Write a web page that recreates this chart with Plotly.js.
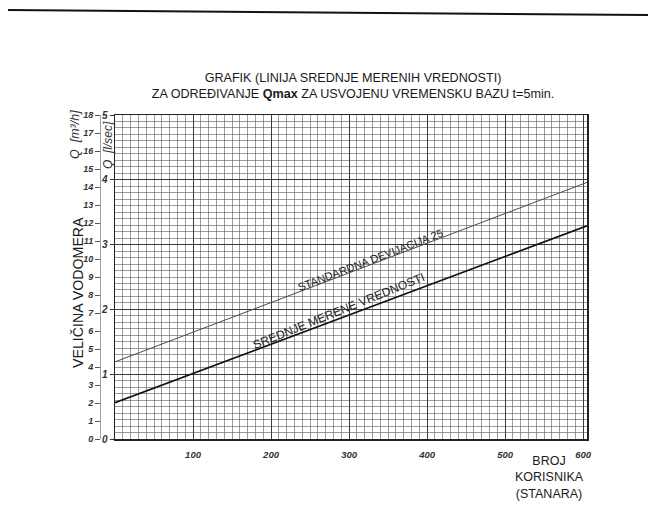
<!DOCTYPE html>
<html><head><meta charset="utf-8">
<script src="https://cdn.plot.ly/plotly-3.0.1.min.js"></script>
<style>html,body{margin:0;padding:0;background:#fff}#chart{width:648px;height:513px}</style>
</head><body><div id="chart"></div>
<script>
// Data
const users = [0, 605];                 // BROJ KORISNIKA (STANARA)
const meanQ = [0.56, 3.29];             // SREDNJE MERENE VREDNOSTI, Q [l/sec]
const sdQ = [1.19, 3.96];               // STANDARDNA DEVIJACIJA 25, Q [l/sec]
const xTicks = [100, 200, 300, 400, 500, 600];
const lsTicks = [0, 1, 2, 3, 4, 5];
const m3hTicks = [0,1,2,3,4,5,6,7,8,9,10,11,12,13,14,15,16,17,18];

const W = 648, H = 513, L = 60, R = 61, T = 115, B = 74;
const pw = W - L - R, ph = H - T - B;
const px = x => (x - L) / pw;
const py = y => (H - B - y) / ph;

const FONT = 'Liberation Sans, Arial, sans-serif';
const INK = '#1a1a1a';

const traces = [
  {x: users, y: sdQ, type: 'scatter', mode: 'lines', line: {color: '#4a4a4a', width: 1}, hoverinfo: 'skip', showlegend: false},
  {x: users, y: meanQ, type: 'scatter', mode: 'lines', line: {color: '#111', width: 1.7}, hoverinfo: 'skip', showlegend: false},
  {x: users, y: meanQ.map(v => v * 3.6), yaxis: 'y2', type: 'scatter', mode: 'lines', line: {width: 0}, opacity: 0, hoverinfo: 'skip', showlegend: false}
];

const layout = {
  width: W, height: H,
  margin: {l: L, r: R, t: T, b: B},
  paper_bgcolor: '#fff', plot_bgcolor: '#fff',
  font: {family: FONT, color: INK},
  showlegend: false,
  title: {
    text: 'GRAFIK (LINIJA SREDNJE MERENIH VREDNOSTI)<br>ZA ODREĐIVANJE <b>Qmax</b> ZA USVOJENU VREMENSKU BAZU t=5min.',
    x: 353 / W, xref: 'container', xanchor: 'center',
    y: 1 - 82 / H, yref: 'container', yanchor: 'middle',
    font: {size: 12.6, color: INK, family: FONT}
  },
  xaxis: {
    domain: [px(115), 1],
    range: [0, 605],
    tickvals: xTicks, ticktext: xTicks.map(String),
    tickfont: {size: 9.5, style: 'italic', weight: 'bold', color: '#333'},
    ticks: '', ticklabelstandoff: 6,
    showline: true, linecolor: '#222', linewidth: 1.5, mirror: true,
    showgrid: true, gridcolor: '#333', gridwidth: 0.9,
    minor: {dtick: 10, showgrid: true, gridcolor: '#5a5a5a', gridwidth: 0.6},
    zeroline: false, fixedrange: true
  },
  yaxis: {
    range: [0, 5],
    tickvals: lsTicks, ticktext: lsTicks.map(String),
    tickfont: {size: 10, style: 'italic', weight: 'bold', color: '#333'},
    ticks: 'outside', ticklen: 4, tickcolor: '#333',
    showline: true, linecolor: '#222', linewidth: 1.5, mirror: true,
    showgrid: true, gridcolor: '#333', gridwidth: 0.9,
    minor: {dtick: 0.1, showgrid: true, gridcolor: '#5a5a5a', gridwidth: 0.6},
    zeroline: false, fixedrange: true
  },
  yaxis2: {
    overlaying: 'y', anchor: 'free', side: 'left', position: px(100),
    range: [0, 18],
    tickvals: m3hTicks, ticktext: m3hTicks.map(String),
    tickfont: {size: 9, style: 'italic', weight: 'bold', color: '#333'},
    ticks: 'outside', ticklen: 5, tickcolor: '#555',
    showline: true, linecolor: '#888', linewidth: 0.8,
    showgrid: false, zeroline: false, fixedrange: true
  },
  shapes: [
    {type: 'line', xref: 'paper', yref: 'paper', x0: px(8), y0: py(10), x1: px(648), y1: py(15), line: {color: '#111', width: 2}}
  ],
  annotations: [
    {xref: 'x', yref: 'y', x: 327, y: 2.77, text: 'STANDARDNA DEVIJACIJA 25', showarrow: false, textangle: -21, xanchor: 'center', yanchor: 'middle', font: {size: 11, color: '#222'}},
    {xref: 'x', yref: 'y', x: 287, y: 1.97, text: 'SREDNJE MERENE VREDNOSTI', showarrow: false, textangle: -22, xanchor: 'center', yanchor: 'middle', font: {size: 12, color: '#222'}},
    {xref: 'paper', yref: 'paper', x: px(75), y: py(135), text: 'Q  [m³/h]', showarrow: false, textangle: -90, xanchor: 'center', yanchor: 'middle', font: {size: 12.5, style: 'italic', color: '#333'}},
    {xref: 'paper', yref: 'paper', x: px(108), y: py(145), text: 'Q  [l/sec]', showarrow: false, textangle: -90, xanchor: 'center', yanchor: 'middle', font: {size: 12, style: 'italic', color: '#333'}},
    {xref: 'paper', yref: 'paper', x: px(78), y: py(293), text: 'VELIČINA VODOMERA', showarrow: false, textangle: -90, xanchor: 'center', yanchor: 'middle', font: {size: 14.2, color: INK}},
    {xref: 'paper', yref: 'paper', x: px(549), y: py(477), text: 'BROJ<br>KORISNIKA<br>(STANARA)', showarrow: false, xanchor: 'center', yanchor: 'middle', align: 'center', font: {size: 12.5, color: INK}}
  ]
};

Plotly.newPlot('chart', traces, layout, {staticPlot: true, displayModeBar: false});
</script>
</body></html>
